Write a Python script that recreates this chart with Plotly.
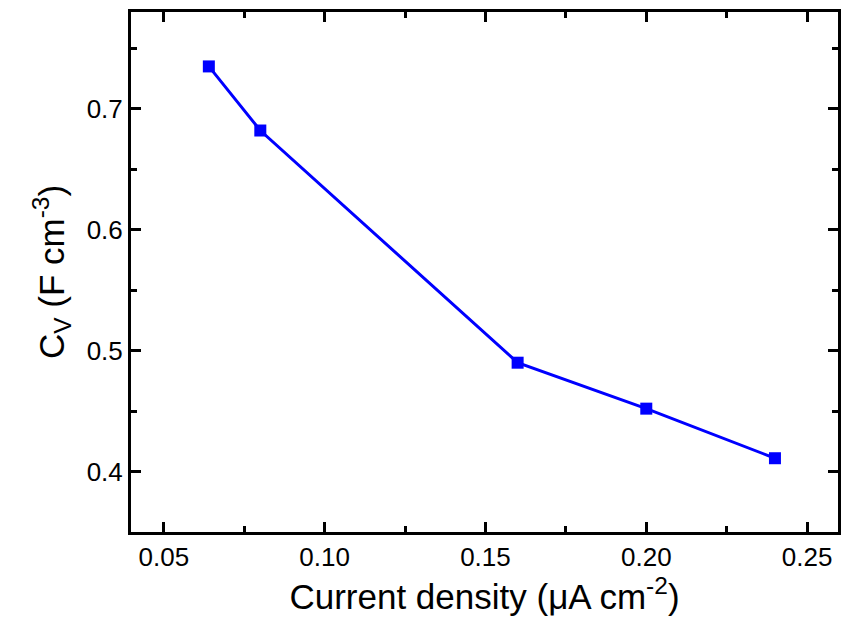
import plotly.graph_objects as go

current_density = [0.064, 0.08, 0.16, 0.20, 0.24]
cv = [0.735, 0.682, 0.490, 0.452, 0.411]

FONT = "Liberation Sans, Arial"

fig = go.Figure()
fig.add_trace(go.Scatter(
    x=current_density, y=cv, mode="lines+markers",
    line=dict(color="#0000ff", width=3),
    marker=dict(symbol="square", size=12, color="#0000ff"),
    showlegend=False,
))

axis_common = dict(
    showline=True, linecolor="black", linewidth=3, mirror="ticks",
    ticks="inside", ticklen=10, tickwidth=3, tickcolor="black",
    showgrid=False, zeroline=False,
    tickfont=dict(family=FONT, size=26, color="black"),
)

fig.update_layout(
    width=843, height=635,
    margin=dict(l=131, r=2, t=12, b=103),
    plot_bgcolor="white", paper_bgcolor="white",
    xaxis=dict(range=[0.0398, 0.2596], tickvals=[0.05, 0.10, 0.15, 0.20, 0.25],
               ticktext=["0.05", "0.10", "0.15", "0.20", "0.25"],
               minor=dict(tickvals=[0.075, 0.125, 0.175, 0.225], ticks="inside", ticklen=6, tickwidth=3, tickcolor="black"),
               title=dict(text="Current density (μA cm<sup>-2</sup>)", font=dict(family=FONT, size=35, color="black"), standoff=12),
               **axis_common),
    yaxis=dict(range=[0.35, 0.78], tickvals=[0.4, 0.5, 0.6, 0.7],
               ticktext=["0.4", "0.5", "0.6", "0.7"],
               minor=dict(tickvals=[0.45, 0.55, 0.65, 0.75], ticks="inside", ticklen=6, tickwidth=3, tickcolor="black"),
               title=dict(text="C<sub>V</sub> (F cm<sup>-3</sup>)", font=dict(family=FONT, size=35, color="black"), standoff=12),
               **axis_common),
)

fig.write_html("out.html")
